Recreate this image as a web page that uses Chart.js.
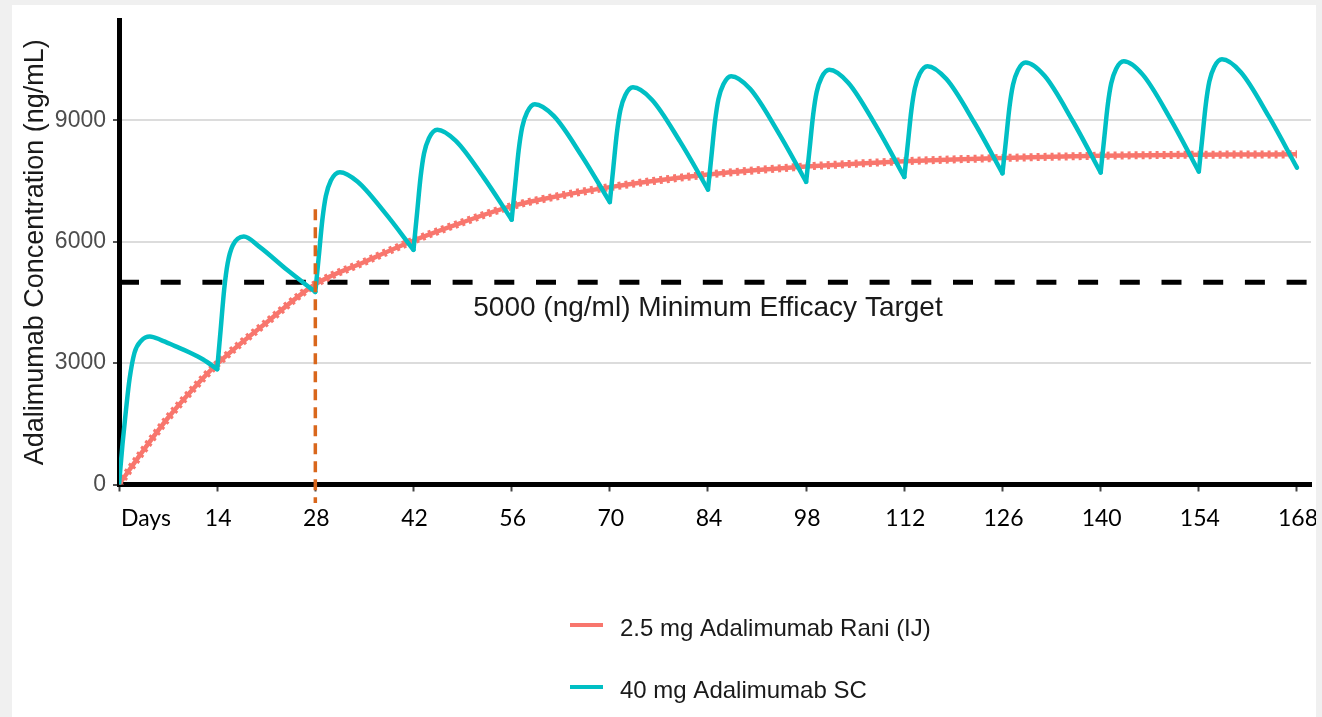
<!DOCTYPE html>
<html>
<head>
<meta charset="utf-8">
<script src="https://cdn.jsdelivr.net/npm/chart.js@4.4.1/dist/chart.umd.min.js"></script>
<style>
  html, body { margin: 0; padding: 0; background: #f0f0f0; }
  #panel { position: absolute; left: 12px; top: 5px; width: 1304px; height: 712px; background: #fff; }
  canvas { display: block; }
</style>
</head>
<body>
<div id="panel"><canvas id="chart" width="1304" height="712"></canvas></div>
<script>
// 2.5 mg Rani (daily)
const raniDays = [0, 3.5, 7, 10.5, 14, 21, 28, 35, 42, 49, 56, 63, 70, 77, 84, 91, 98, 105, 112, 119, 126, 133, 140, 147, 154, 161, 168];
const raniConc = [0, 850, 1650, 2350, 2980, 4000, 4950, 5500, 6030, 6480, 6880, 7140, 7350, 7520, 7660, 7770, 7860, 7930, 7990, 8035, 8070, 8100, 8125, 8140, 8150, 8155, 8160];

// 40 mg SC every 14 days
const scDays = [
  0, 0.5, 1, 1.5, 2.2, 3.2, 4.4, 6, 8, 10, 12,
  14, 14.5, 15, 15.5, 16.2, 17.8, 20, 24,
  28, 28.5, 29, 29.5, 30.2, 31.5, 34, 38,
  42, 42.5, 43, 43.5, 44.2, 45.4, 48, 52,
  56, 56.5, 57, 57.5, 58.2, 59.3, 62, 66,
  70, 70.5, 71, 71.5, 72.2, 73.3, 76, 80,
  84, 84.5, 85, 85.5, 86.2, 87.3, 90, 94,
  98, 98.5, 99, 99.5, 100.2, 101.3, 104, 108,
  112, 112.5, 113, 113.5, 114.2, 115.3, 118, 122,
  126, 126.5, 127, 127.5, 128.2, 129.3, 132, 136,
  140, 140.5, 141, 141.5, 142.2, 143.3, 146, 150,
  154, 154.5, 155, 155.5, 156.2, 157.3, 160, 164, 168
];
const scConc = [
  0, 1000, 1850, 2600, 3250, 3560, 3660, 3570, 3420, 3270, 3090,
  2850, 3830, 4820, 5470, 5900, 6130, 5880, 5300,
  4760, 5650, 6540, 7130, 7510, 7720, 7490, 6700,
  5800, 6690, 7580, 8180, 8560, 8770, 8500, 7590,
  6545, 7400, 8260, 8830, 9200, 9400, 9110, 8120,
  6980, 7830, 8680, 9250, 9620, 9815, 9510, 8480,
  7290, 8130, 8970, 9530, 9890, 10090, 9780, 8710,
  7480, 8310, 9140, 9700, 10060, 10250, 9930, 8850,
  7600, 8420, 9240, 9790, 10150, 10340, 10020, 8940,
  7690, 8510, 9330, 9880, 10240, 10430, 10100, 8990,
  7710, 8540, 9360, 9910, 10270, 10460, 10130, 9020,
  7735, 8570, 9400, 9960, 10320, 10510, 10190, 9090, 7830
];
const doseDays = [0, 14, 28, 42, 56, 70, 84, 98, 112, 126, 140, 154];

const xTickValues = [0, 14, 28, 42, 56, 70, 84, 98, 112, 126, 140, 154, 168];
const xTickLabels = ['Days', '14', '28', '42', '56', '70', '84', '98', '112', '126', '140', '154', '168'];
const yTickValues = [0, 3000, 6000, 9000];

const seriesNames = ['2.5 mg Adalimumab Rani (IJ)', '40 mg Adalimumab SC'];
const targetLevel = 5000;
const targetText = '5000 (ng/ml) Minimum Efficacy Target';
const switchDay = 28;
const switchSpan = [6800, -460];

const salmon = '#F8766D';
const teal = '#00BFC4';

const raniPts = raniDays.map((d, i) => ({x: d, y: raniConc[i]}));
const scSegments = doseDays.map(d => {
    const pts = [];
    scDays.forEach((x, i) => {
        if (x >= d && x <= d + 14) pts.push({x: x, y: scConc[i]});
    });
    return pts;
});

const lineBase = {pointRadius: 0, pointHoverRadius: 0, fill: false};

const datasets = [
    Object.assign({}, lineBase, {
        label: 'switch',
        data: switchSpan.map(v => ({x: switchDay, y: v})),
        borderColor: '#d9671c', borderWidth: 3.5, borderDash: [11, 7],
        clip: false, order: 0
    }),
    ...scSegments.map(pts => Object.assign({}, lineBase, {
        label: seriesNames[1],
        data: pts,
        borderColor: teal, borderWidth: 4.5,
        cubicInterpolationMode: 'monotone',
        borderCapStyle: 'round', borderJoinStyle: 'round',
        order: 1
    })),
    Object.assign({}, lineBase, {
        label: seriesNames[0],
        data: raniPts,
        borderColor: salmon, borderWidth: 4.5,
        cubicInterpolationMode: 'monotone',
        order: 2
    }),
    Object.assign({}, lineBase, {
        label: 'rani-texture',
        data: raniPts,
        borderColor: salmon, borderWidth: 8, borderDash: [3, 4],
        cubicInterpolationMode: 'monotone',
        order: 2
    }),
    Object.assign({}, lineBase, {
        label: 'target',
        data: [{x: 0, y: targetLevel}, {x: 170, y: targetLevel}],
        borderColor: '#000', borderWidth: 5, borderDash: [20, 21.7],
        order: 3
    })
];

const overlay = {
    id: 'overlay',
    afterDraw(chart) {
        const ctx = chart.ctx;
        const xs = chart.scales.x, ys = chart.scales.y;
        ctx.save();

        // day labels under the axis
        ctx.fillStyle = '#000';
        ctx.font = '23px Lato';
        ctx.textBaseline = 'middle';
        xTickValues.forEach((v, i) => {
            const px = xs.getPixelForValue(v);
            if (i === 0) {
                ctx.textAlign = 'left';
                ctx.fillText(xTickLabels[i], px + 2, 514);
            } else {
                ctx.textAlign = 'center';
                ctx.fillText(xTickLabels[i], px + 1, 514);
            }
        });

        // target annotation
        ctx.fillStyle = '#1a1a1a';
        ctx.font = '28px "Liberation Sans"';
        ctx.textAlign = 'center';
        ctx.fillText(targetText, xs.getPixelForValue(84), ys.getPixelForValue(4360));

        // legend
        const colors = [salmon, teal];
        const rows = [620, 682];
        ctx.font = '24px "Liberation Sans"';
        ctx.textAlign = 'left';
        seriesNames.forEach((name, i) => {
            ctx.strokeStyle = colors[i];
            ctx.lineWidth = 4;
            ctx.beginPath();
            ctx.moveTo(558, rows[i]);
            ctx.lineTo(591, rows[i]);
            ctx.stroke();
            ctx.fillStyle = '#1a1a1a';
            ctx.fillText(name, 608, rows[i] + 4);
        });
        ctx.restore();
    }
};

new Chart(document.getElementById('chart'), {
    type: 'line',
    data: {datasets: datasets},
    options: {
        responsive: false,
        devicePixelRatio: 1,
        animation: false,
        layout: {padding: {left: 3, top: 15, right: 5, bottom: 0}},
        plugins: {legend: {display: false}, tooltip: {enabled: false}},
        scales: {
            x: {
                type: 'linear', min: 0, max: 170,
                afterBuildTicks: s => { s.ticks = xTickValues.map(v => ({value: v})); },
                afterFit: s => { s.height = 232.5; s.paddingLeft = 0; s.paddingRight = 0; },
                ticks: {display: false},
                grid: {drawOnChartArea: false, drawTicks: true, tickLength: 7, tickColor: '#444', tickWidth: 2},
                border: {display: true, color: '#000', width: 5}
            },
            y: {
                type: 'linear', min: 0, max: 11480,
                afterBuildTicks: s => { s.ticks = yTickValues.map(v => ({value: v})); },
                afterFit: s => { s.width = 104; s.paddingTop = 0; s.paddingBottom = 0; },
                ticks: {
                    color: '#4d4d4d', padding: 7,
                    font: {family: 'Liberation Sans', size: 23},
                    callback: v => String(v)
                },
                grid: {color: '#dcdcdc', lineWidth: 2, tickColor: '#555', tickLength: 6, tickWidth: 2},
                border: {display: true, color: '#000', width: 5},
                title: {
                    display: true, text: 'Adalimumab Concentration (ng/mL)',
                    color: '#1a1a1a', padding: {top: 4, bottom: 4},
                    font: {family: 'Liberation Sans', size: 27}
                }
            }
        }
    },
    plugins: [overlay]
});
</script>
</body>
</html>
